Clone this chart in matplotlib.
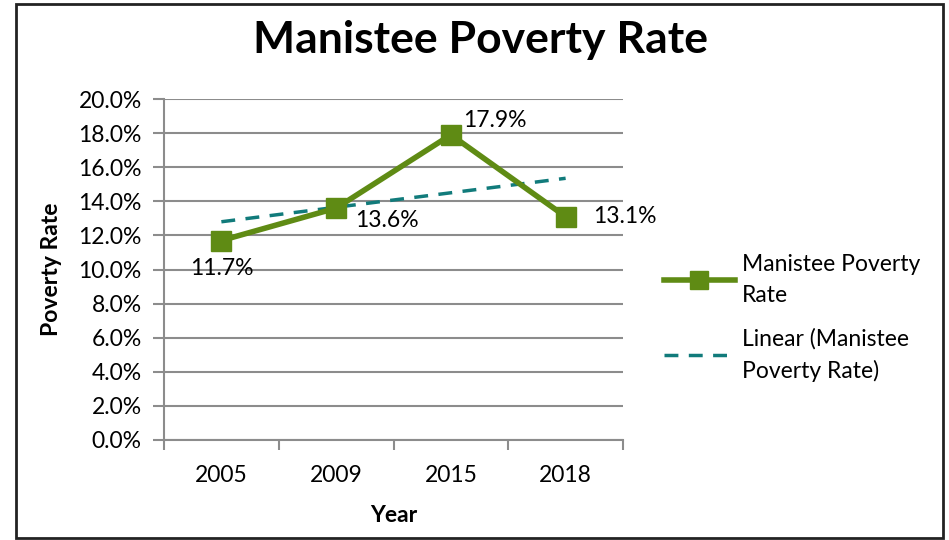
import numpy as np
import matplotlib
matplotlib.use("Agg")
import matplotlib.pyplot as plt
from matplotlib.lines import Line2D
from matplotlib.patches import Rectangle

years = ["2005", "2009", "2015", "2018"]
rates = [11.7, 13.6, 17.9, 13.1]
series_name = "Manistee Poverty Rate"
trend_name = "Linear (Manistee Poverty Rate)"
y_ticks = [0, 2, 4, 6, 8, 10, 12, 14, 16, 18, 20]

plt.rcParams['font.family'] = ['Lato', 'DejaVu Sans']

W, H = 949, 540
fig = plt.figure(figsize=(W / 100, H / 100), dpi=100)

def px(x0, y0, x1, y1):
    return [x0 / W, 1 - y1 / H, (x1 - x0) / W, (y1 - y0) / H]

# outer frame
fig.patches.append(Rectangle((16 / W, 1 - 538 / H), (943 - 16) / W, (538 - 4) / H,
                             transform=fig.transFigure, fill=False,
                             edgecolor='#222222', linewidth=2))

ax = fig.add_axes(px(164, 99, 623, 440))
green = '#5f8b14'
teal = '#117b7b'
grid = '#8c8c8c'
fs = 16.5

x = np.arange(len(years))
ax.plot(x, rates, color=green, lw=4, marker='s', ms=15, mfc=green, mec=green, zorder=4)

coef = np.polyfit(x + 1, rates, 1)
tx = np.array([x[0], x[-1]])
ax.plot(tx, np.polyval(coef, tx + 1), color=teal, lw=2.5, ls=(0, (4, 3)), zorder=3)

ax.set_xlim(-0.5, len(years) - 0.5)
ax.set_ylim(0, 20)
ax.set_yticks(y_ticks)
ax.set_yticklabels([f"{v:.1f}%" for v in y_ticks], fontsize=fs)
ax.set_xticks(x)
ax.set_xticklabels(years, fontsize=fs)
ax.set_xticks(np.arange(len(years) + 1) - 0.5, minor=True)
ax.tick_params(axis='x', which='major', length=0, pad=18)
ax.tick_params(axis='x', which='minor', length=7, color=grid, width=1.5)
ax.tick_params(axis='y', length=8, color=grid, width=1.5, pad=8)
ax.grid(axis='y', color=grid, lw=1.5)
ax.set_axisbelow(True)
for s in ['top', 'right']:
    ax.spines[s].set_visible(False)
for s in ['left', 'bottom']:
    ax.spines[s].set_color(grid)
    ax.spines[s].set_linewidth(1.5)

offsets = [(0, -20, 'center', 'center'), (14, -9, 'left', 'center'),
           (9, 10, 'left', 'center'), (20, 0, 'left', 'center')]
for xi, v, (dx, dy, ha, va) in zip(x, rates, offsets):
    ax.annotate(f"{v:.1f}%", (xi, v), xytext=(dx, dy), textcoords='offset points',
                ha=ha, va=va, fontsize=fs, color='black')

ax.set_ylabel("Poverty Rate", fontsize=fs, fontweight='bold', labelpad=12)
ax.set_xlabel("Year", fontsize=fs, fontweight='bold', labelpad=14)

fig.text(480 / W, 1 - 40 / H, "Manistee Poverty Rate", ha='center', va='center',
         fontsize=32, fontweight='bold')

handles = [Line2D([], [], color=green, lw=4, marker='s', ms=13),
           Line2D([], [], color=teal, lw=2.5, ls=(0, (4, 3)))]
leg = fig.legend(handles, ["Manistee Poverty\nRate", "Linear (Manistee\nPoverty Rate)"],
                 loc='upper left', bbox_to_anchor=(643 / W, 1 - 233 / H),
                 frameon=False, fontsize=fs, handlelength=3.1, labelspacing=0.95,
                 handletextpad=0.3)
for t in leg.get_texts():
    t.set_linespacing(1.6)

fig.savefig("out.png", dpi=100)
